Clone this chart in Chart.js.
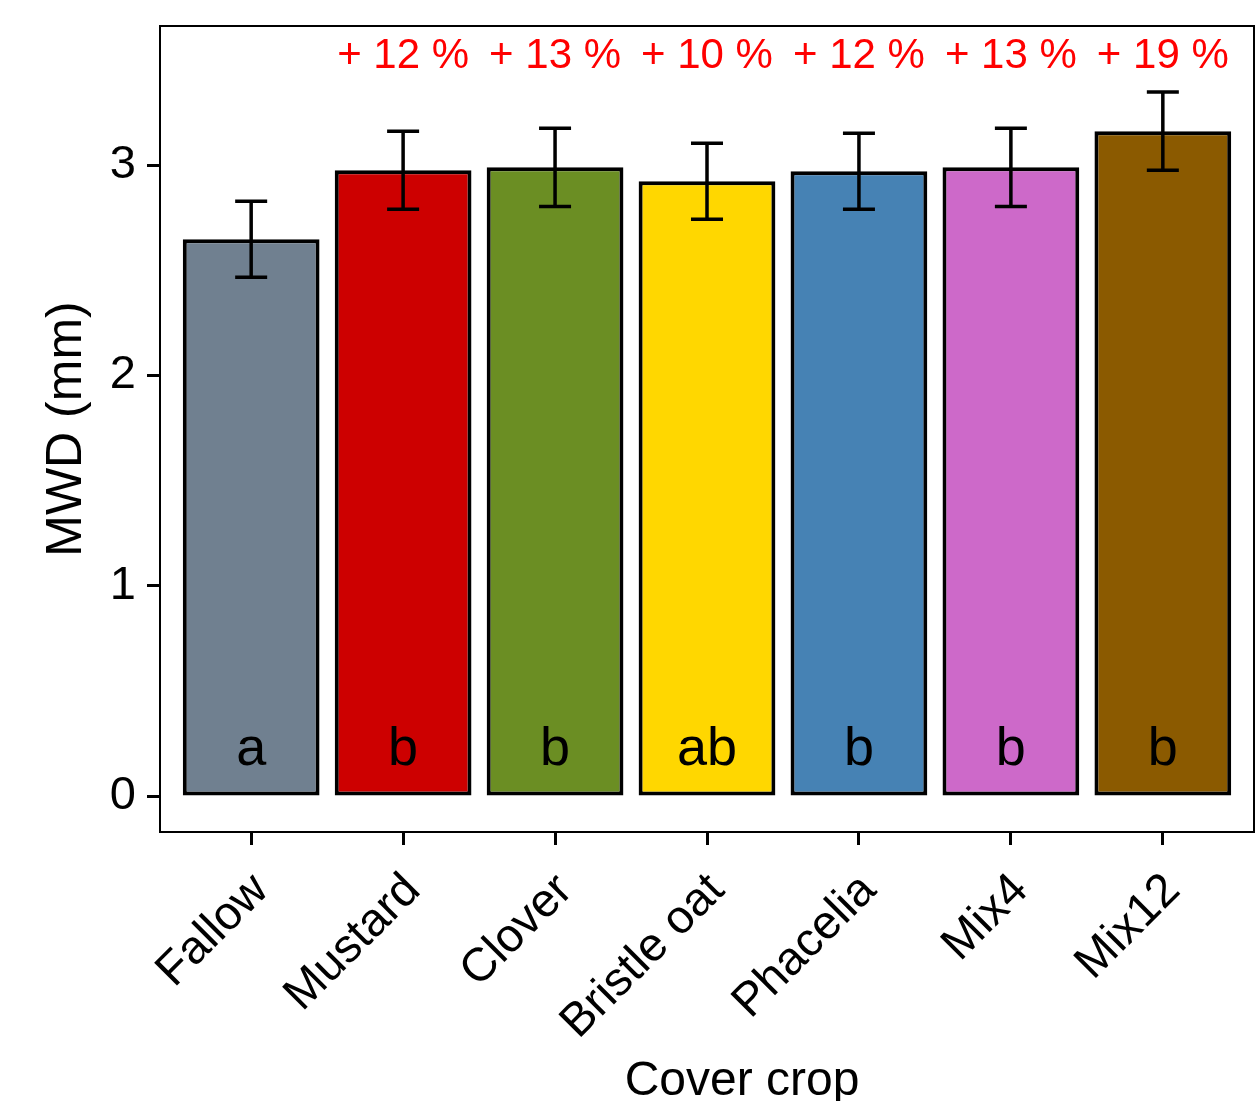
<!DOCTYPE html>
<html>
<head>
<meta charset="utf-8">
<script src="https://cdn.jsdelivr.net/npm/chart.js@4/dist/chart.umd.min.js"></script>
<style>
  html, body { margin: 0; padding: 0; background: #fff; }
  #wrap { width: 1256px; height: 1101px; }
</style>
</head>
<body>
<div id="wrap"><canvas id="c" width="1256" height="1101"></canvas></div>
<script>
const categories = ['Fallow', 'Mustard', 'Clover', 'Bristle oat', 'Phacelia', 'Mix4', 'Mix12'];
const means = [2.648, 2.976, 2.99, 2.924, 2.971, 2.99, 3.162];
const se = [0.181, 0.186, 0.186, 0.181, 0.181, 0.186, 0.186];
const letters = ['a', 'b', 'b', 'ab', 'b', 'b', 'b'];
const increase = ['', '+ 12 %', '+ 13 %', '+ 10 %', '+ 12 %', '+ 13 %', '+ 19 %'];
const colors = ['#708090', '#CD0000', '#6B8E23', '#FFD700', '#4682B4', '#CD69C9', '#8B5A00'];
const yTicks = [0, 1, 2, 3];
const xTitle = 'Cover crop';

const FONT = "'Liberation Sans', Arial, sans-serif";

const overlay = {
  id: 'overlay',
  afterDatasetsDraw(chart) {
    const ctx = chart.ctx;
    const xs = chart.scales.x, ys = chart.scales.y;
    const ca = chart.chartArea;
    ctx.save();
    // error bars
    ctx.strokeStyle = '#000';
    ctx.lineWidth = 3.5;
    ctx.lineCap = 'butt';
    means.forEach((m, i) => {
      const x = xs.getPixelForValue(i);
      const yHi = ys.getPixelForValue(m + se[i]);
      const yLo = ys.getPixelForValue(m - se[i]);
      ctx.beginPath();
      ctx.moveTo(x, yHi); ctx.lineTo(x, yLo);
      ctx.moveTo(x - 16, yHi); ctx.lineTo(x + 16, yHi);
      ctx.moveTo(x - 16, yLo); ctx.lineTo(x + 16, yLo);
      ctx.stroke();
    });
    // letters
    ctx.fillStyle = '#000';
    ctx.font = '54px ' + FONT;
    ctx.textAlign = 'center';
    ctx.textBaseline = 'alphabetic';
    letters.forEach((l, i) => {
      ctx.fillText(l, xs.getPixelForValue(i), ys.getPixelForValue(0) - 31);
    });
    // increases
    ctx.fillStyle = '#FF0000';
    ctx.font = '42px ' + FONT;
    ctx.textBaseline = 'middle';
    increase.forEach((t, i) => {
      if (t) ctx.fillText(t, xs.getPixelForValue(i), ca.top + 30);
    });
    // panel border
    ctx.strokeStyle = '#000';
    ctx.lineWidth = 2;
    ctx.strokeRect(ca.left, ca.top, ca.right - ca.left, ca.bottom - ca.top);
    // x axis title
    ctx.fillStyle = '#000';
    ctx.font = '48px ' + FONT;
    ctx.textAlign = 'center';
    ctx.textBaseline = 'middle';
    ctx.fillText(xTitle, 742, 1082);
    ctx.restore();
  }
};

new Chart(document.getElementById('c'), {
  type: 'bar',
  data: {
    datasets: [{
      data: means.map((v, i) => ({ x: i, y: v })),
      backgroundColor: colors,
      borderColor: '#000',
      borderWidth: 4,
      borderSkipped: false,
      categoryPercentage: 0.9,
      barPercentage: 1.0
    }]
  },
  options: {
    responsive: false,
    animation: false,
    events: [],
    layout: { padding: { top: 26, right: 2, left: 0, bottom: 0 } },
    plugins: { legend: { display: false }, tooltip: { enabled: false } },
    scales: {
      x: {
        type: 'linear',
        offset: false,
        min: -0.6,
        max: 6.6,
        afterBuildTicks: (s) => { s.ticks = categories.map((c, i) => ({ value: i })); },
        afterFit: (s) => { s.height = 269; s.paddingLeft = 0; s.paddingRight = 0; },
        ticks: {
          autoSkip: false,
          maxRotation: 45,
          minRotation: 45,
          padding: 18,
          labelOffset: 10,
          color: '#000',
          font: { family: FONT, size: 47 },
          callback: (v) => categories[v]
        },
        grid: { offset: false, drawOnChartArea: false, drawTicks: true, tickLength: 13, tickWidth: 3, tickColor: '#000', color: '#000' },
        border: { display: true, color: '#000', width: 2 },
        title: { display: false }
      },
      y: {
        type: 'linear',
        min: -0.171,
        max: 3.662,
        afterBuildTicks: (s) => { s.ticks = yTicks.map(v => ({ value: v })); },
        afterFit: (s) => { s.width = 160; s.paddingTop = 0; s.paddingBottom = 0; },
        ticks: {
          padding: 11,
          color: '#000',
          font: { family: FONT, size: 47 },
          callback: (v) => String(v)
        },
        grid: { drawOnChartArea: false, drawTicks: true, tickLength: 13, tickWidth: 3, tickColor: '#000', color: '#000' },
        border: { display: true, color: '#000', width: 2 },
        title: {
          display: true,
          text: 'MWD (mm)',
          color: '#000',
          font: { family: FONT, size: 50, lineHeight: 1 },
          padding: { top: 42, bottom: 0 }
        }
      }
    }
  },
  plugins: [overlay]
});
</script>
</body>
</html>
